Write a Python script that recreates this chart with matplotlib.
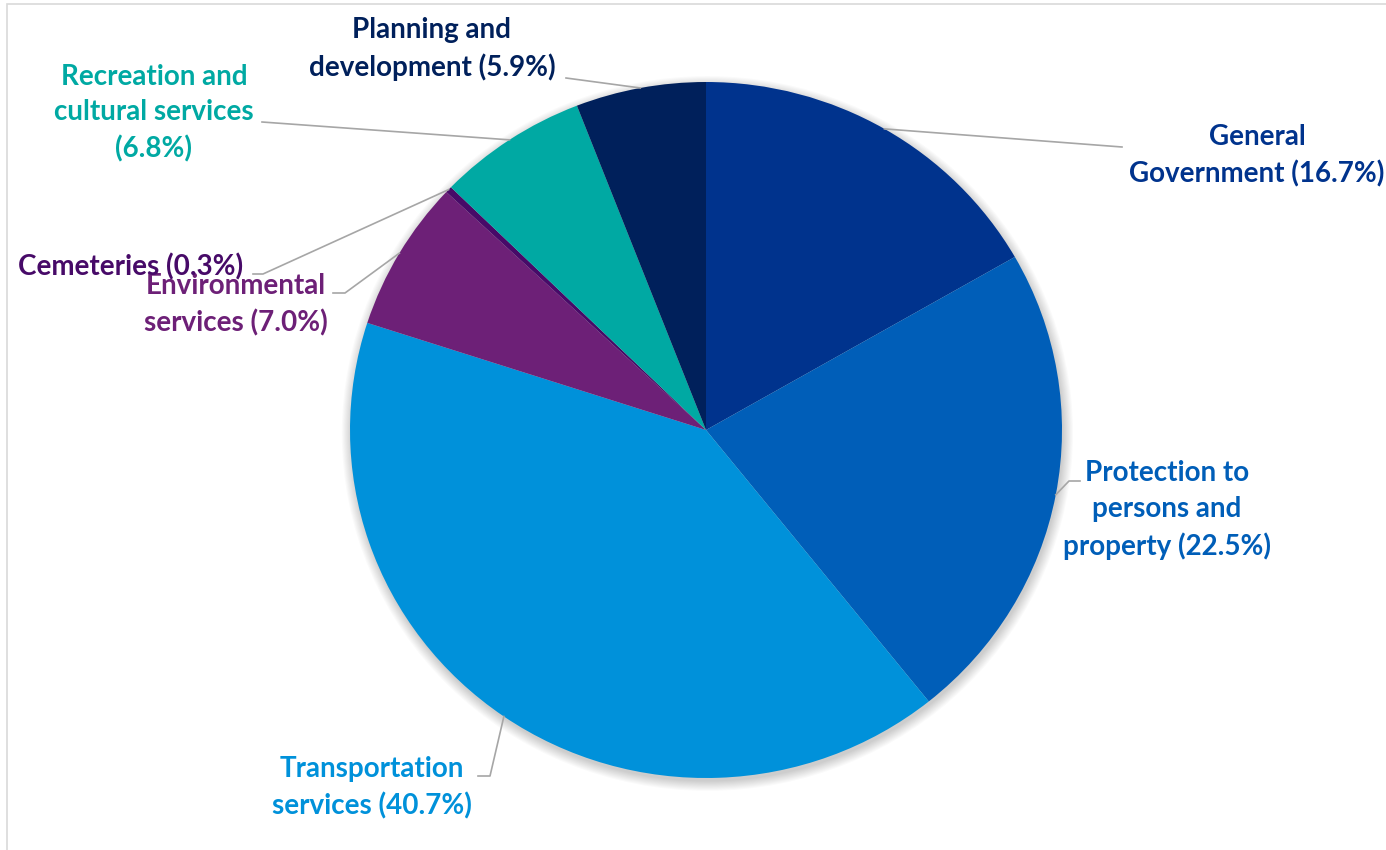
import matplotlib
matplotlib.use("Agg")
import matplotlib.pyplot as plt
import numpy as np
from matplotlib.patches import Ellipse, Rectangle
from matplotlib.lines import Line2D

# spending share by service area, clockwise from 12 o'clock
categories = [
    "General\nGovernment",
    "Protection to\npersons and\nproperty",
    "Transportation\nservices",
    "Environmental\nservices",
    "Cemeteries",
    "Recreation and\ncultural services",
    "Planning and\ndevelopment",
]
shares = [16.7, 22.5, 40.7, 7.0, 0.3, 6.8, 5.9]
colors = ["#00338D", "#005EB8", "#0091DA", "#6D2077", "#470A68", "#00A9A3", "#00205B"]
# the percentage goes on its own line for these
pct_newline = {"Recreation and\ncultural services"}

W, H = 1386, 850
fig = plt.figure(figsize=(W / 100, H / 100), dpi=100)
fig.patch.set_facecolor("white")

# pie box in pixels (slightly wider than tall)
cx, cy, rx, ry = 706, 430, 356, 348
ax = fig.add_axes([(cx - rx) / W, 1 - (cy + ry) / H, 2 * rx / W, 2 * ry / H])

# soft drop shadow under the pie
for k in range(10):
    ax.add_patch(Ellipse((0.004, -0.01), 2 + 0.006 * k, 2 + 0.006 * k, clip_on=False,
                         facecolor="black", edgecolor="none", alpha=0.018, zorder=0))

wedges, _ = ax.pie(shares, colors=colors, startangle=90, counterclock=False,
                   radius=1, wedgeprops=dict(linewidth=0, zorder=2, clip_on=False))
ax.set_aspect("auto")
ax.set_xlim(-1, 1)
ax.set_ylim(-1, 1)
ax.axis("off")

# outer frame
fig.patches.append(Rectangle((7 / W, -0.1), 1.2, 1 - 4 / H + 0.1, transform=fig.transFigure,
                             facecolor="none", edgecolor="#d9d9d9", linewidth=1.2))


def px(x, y):
    """pixel position (origin top-left) -> figure fraction"""
    return x / W, 1 - y / H


fig.canvas.draw()
to_fig = ax.transData + fig.transFigure.inverted()

# label centre, leader elbow and leader end, all in px
layout = [
    dict(xy=(1257, 156), elbow=None, end=(1122, 147)),
    dict(xy=(1167, 510), elbow=(1069, 481), end=(1080, 481)),
    dict(xy=(372, 788), elbow=(490, 776), end=(478, 776)),
    dict(xy=(236, 305), elbow=(345, 293), end=(333, 293)),
    dict(xy=(131, 267), elbow=(263, 274), end=(253, 274)),
    dict(xy=(154, 113), elbow=None, end=(262, 122)),
    dict(xy=(432, 49), elbow=None, end=(566, 78)),
]

for w, cat, val, col, lay in zip(wedges, categories, shares, colors, layout):
    mid = np.deg2rad((w.theta1 + w.theta2) / 2)
    pts = [to_fig.transform((np.cos(mid), np.sin(mid)))]
    if lay["elbow"]:
        pts.append(px(*lay["elbow"]))
    pts.append(px(*lay["end"]))
    xs, ys = zip(*pts)
    fig.add_artist(Line2D(xs, ys, transform=fig.transFigure, color="#a6a6a6",
                          linewidth=1.2, zorder=1))

    sep = "\n" if cat in pct_newline else " "
    fig.text(*px(*lay["xy"]), f"{cat}{sep}({val:.1f}%)", ha="center", va="center",
             color=col, fontsize=20, fontweight="bold", family=["Lato", "DejaVu Sans"],
             linespacing=1.45, zorder=5)

fig.savefig("out.png", dpi=100)
